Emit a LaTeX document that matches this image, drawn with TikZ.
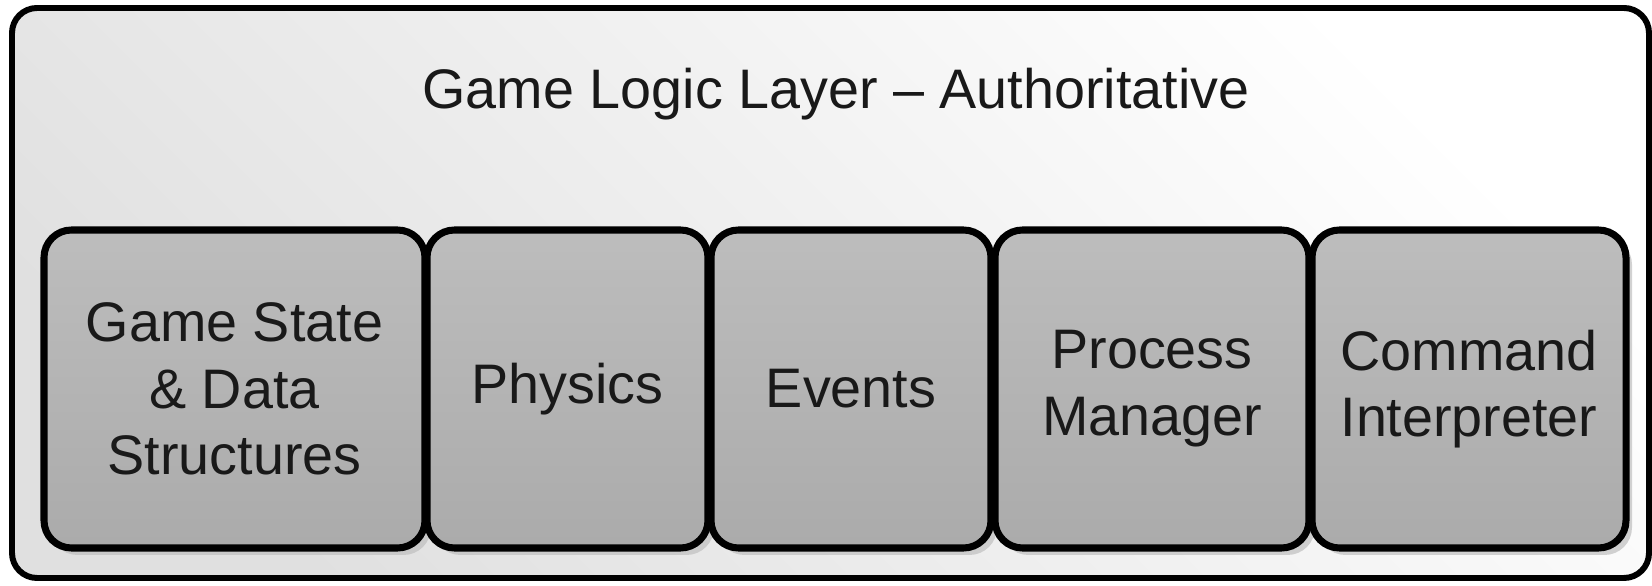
\documentclass[tikz,border=0pt]{standalone}
\usepackage{fontspec}
\setmainfont{Liberation Sans}
\usetikzlibrary{shadows}
\tikzset{
  >=latex,
}
\tikzstyle{every node}=[font=\fontsize{31.7}{38}\selectfont,text=black!90]
\tikzstyle{layer}=[draw,line width=3.4pt,rounded corners=0.5cm,top color=white,bottom color=black!12,shading angle=-45]
\tikzstyle{module}=[draw,line width=4pt,rounded corners=0.55cm,top color=black!26,bottom color=black!33,minimum height=6.36cm,align=center,inner sep=0pt,drop shadow={shadow xshift=0.12cm,shadow yshift=-0.14cm,fill=black!25,opacity=0.7}]

\begin{document}
\begin{tikzpicture}
        \useasboundingbox (0,0) rectangle (33.04,11.72);
        \draw[layer] (0.24,0.16) rectangle (32.98,11.56);
        \node[anchor=base] (title) at (16.72,9.55) {Game Logic Layer -- Authoritative};
        \node[module,minimum width=7.62cm] (state) at (4.69,3.94) {Game State\\\& Data\\Structures};
        \node[module,minimum width=5.62cm] (physics) at (11.35,3.94) {Physics};
        \node[module,minimum width=5.60cm] (events) at (17.02,3.94) {Events};
        \node[module,minimum width=6.28cm] (process) at (23.04,3.94) {Process\\Manager};
        \node[module,minimum width=6.28cm] (command) at (29.38,3.94) {Command\\Interpreter};
      \end{tikzpicture}
\end{document}
